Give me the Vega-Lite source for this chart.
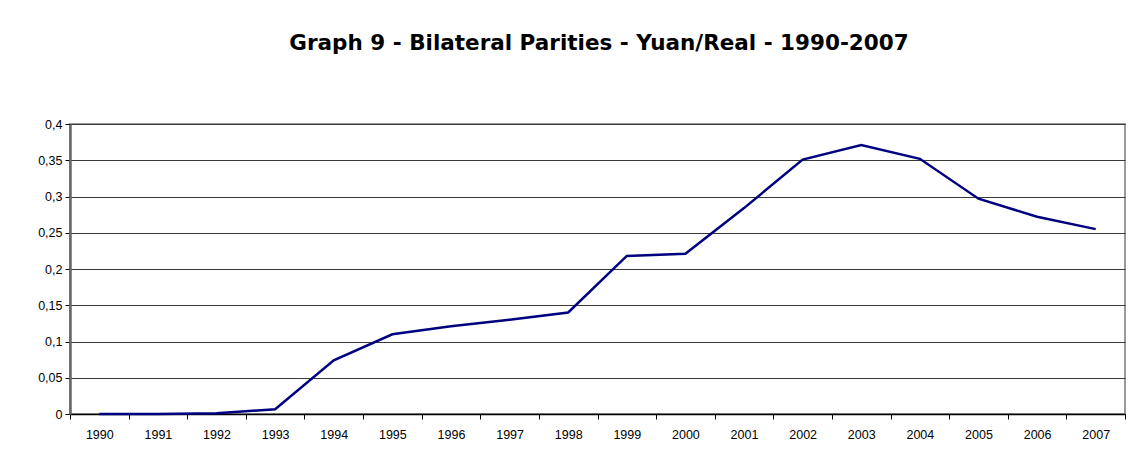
{
  "$schema": "https://vega.github.io/schema/vega-lite/v6.json",
  "width": 1055,
  "height": 290,
  "autosize": {"type": "none"},
  "padding": {"left": 70, "top": 124, "right": 11, "bottom": 49},
  "background": "white",
  "title": {
    "text": "Graph 9 - Bilateral Parities - Yuan/Real - 1990-2007",
    "font": "DejaVu Sans",
    "fontSize": 21.5,
    "fontWeight": "bold",
    "color": "black",
    "anchor": "middle",
    "frame": "group",
    "baseline": "alphabetic",
    "offset": 47,
    "dx": 1.5
  },
  "config": {
    "view": {"stroke": "#9a9a9a", "strokeWidth": 2},
    "axis": {"labelFont": "Liberation Sans", "labelFontSize": 12.5, "labelColor": "black"}
  },
  "data": {
    "values": [
      {"year": "1990", "value": 0.0},
      {"year": "1991", "value": 0.0},
      {"year": "1992", "value": 0.001},
      {"year": "1993", "value": 0.0065},
      {"year": "1994", "value": 0.074},
      {"year": "1995", "value": 0.11},
      {"year": "1996", "value": 0.121},
      {"year": "1997", "value": 0.13},
      {"year": "1998", "value": 0.14},
      {"year": "1999", "value": 0.218},
      {"year": "2000", "value": 0.221},
      {"year": "2001", "value": 0.284},
      {"year": "2002", "value": 0.351},
      {"year": "2003", "value": 0.371},
      {"year": "2004", "value": 0.352},
      {"year": "2005", "value": 0.297},
      {"year": "2006", "value": 0.272},
      {"year": "2007", "value": 0.255}
    ]
  },
  "mark": {"type": "line", "color": "#000080", "strokeWidth": 2.5},
  "encoding": {
    "x": {
      "field": "year",
      "type": "ordinal",
      "scale": {"type": "band", "paddingInner": 0, "paddingOuter": 0},
      "axis": {
        "title": null,
        "labelAngle": 0,
        "tickBand": "extent",
        "tickSize": 5,
        "tickColor": "black",
        "domainColor": "black",
        "domainWidth": 1.5,
        "labelPadding": 9,
        "grid": false
      }
    },
    "y": {
      "field": "value",
      "type": "quantitative",
      "scale": {"domain": [0, 0.4], "nice": false},
      "axis": {
        "title": null,
        "values": [0, 0.05, 0.1, 0.15, 0.2, 0.25, 0.3, 0.35, 0.4],
        "labelExpr": "replace(format(datum.value, '.2~f'), '.', ',')",
        "grid": true,
        "gridColor": "#3a3a3a",
        "gridWidth": 1,
        "gridOpacity": 1,
        "tickSize": 5,
        "tickColor": "black",
        "domainColor": "#666666",
        "domainWidth": 2.5,
        "labelPadding": 3
      }
    }
  }
}
